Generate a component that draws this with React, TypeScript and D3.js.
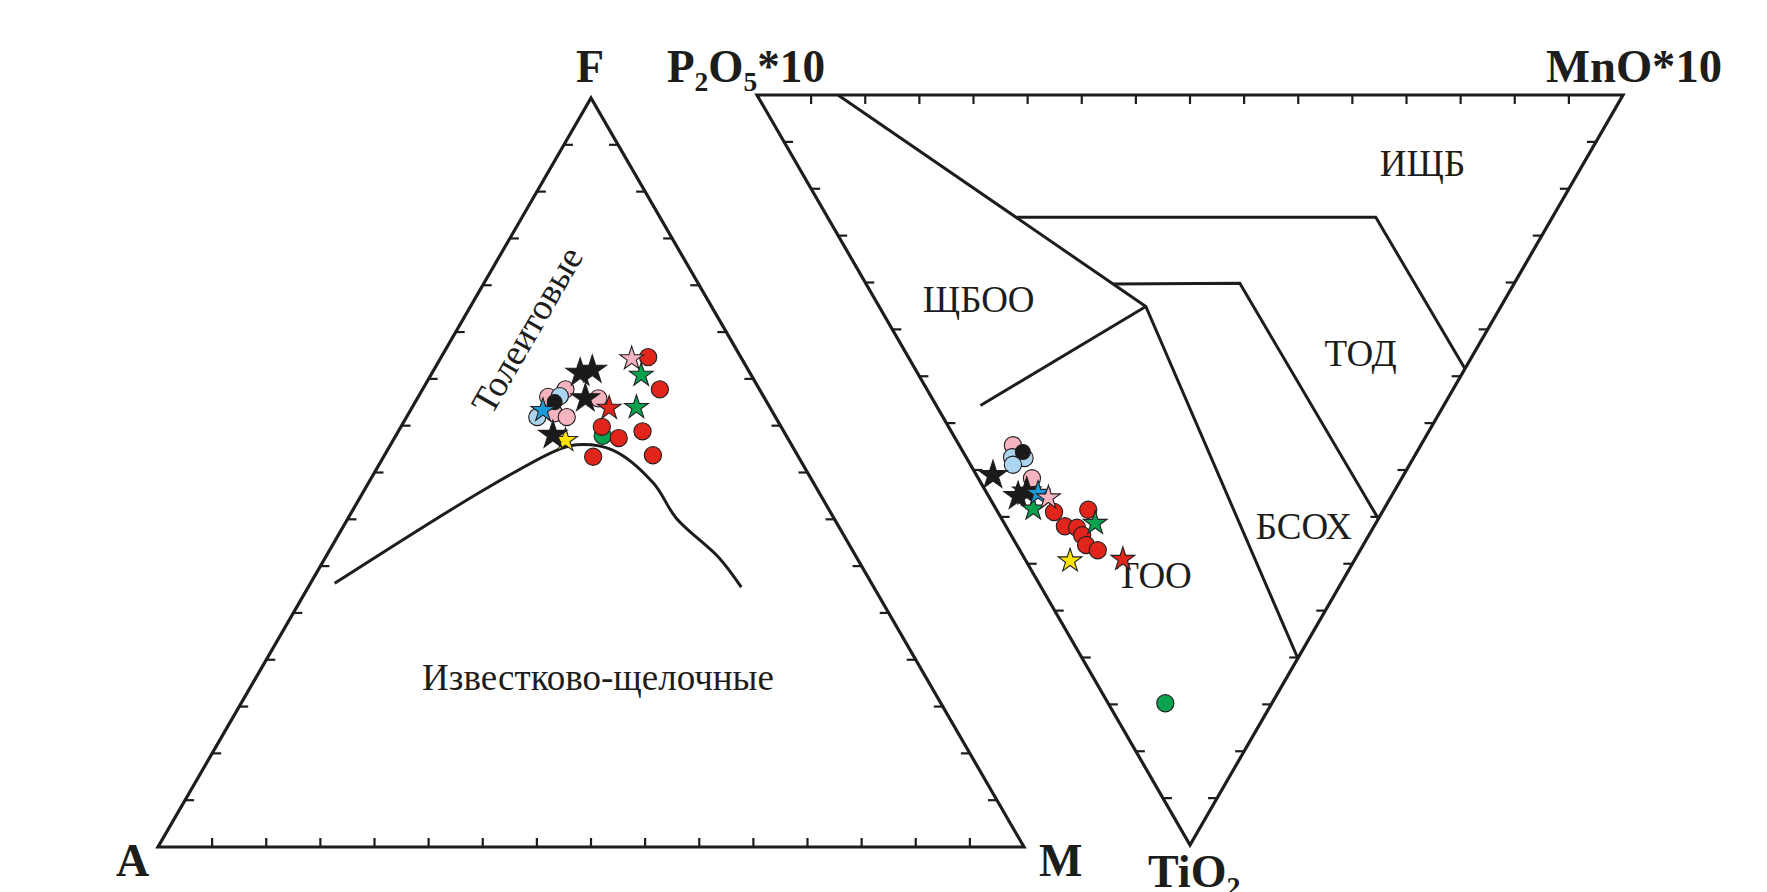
import * as d3 from 'd3'
import React from 'react'

// AFM diagram: [F, M] in %, A = 100 - F - M
const afmBlackStar = [[63.3, 17.1], [63.7, 18.3], [59.9, 19.4], [55.0, 18.1]]
const afmPinkStar = [[65.2, 22.1]]
const afmRedCircle = [[65.4, 23.9], [61.1, 27.4], [56.1, 23.2], [54.6, 25.9], [55.5, 28.2], [52.1, 24.2], [52.3, 31.0]]
const afmGreenStar = [[63.0, 24.3], [58.7, 25.9]]
const afmPinkCircle = [[61.1, 16.5], [60.1, 15.0], [57.9, 16.8], [57.4, 18.5], [59.9, 20.9]]
const afmBlueCircle = [[60.2, 16.3], [57.4, 15.1]]
const afmBlackCircle = [[59.4, 16.1]]
const afmBlueStar = [[58.3, 15.3]]
const afmRedStar = [[58.6, 22.8]]
const afmGreenCircle = [[54.9, 23.9]]
const afmYellowStar = [[54.3, 19.9]]

// tholeiite / calc-alkaline divide, [F, M]
const afmDivide = [[35.2, 2.8], [47.9, 14.0], [53.0, 19.6], [53.7, 21.5], [53.0, 26.0], [48.6, 32.9], [43.9, 37.9], [38.6, 45.5], [34.7, 50.0]]

// MnO*10 - TiO2 - P2O5*10 diagram: [TiO2, MnO*10] in %, P2O5*10 = rest
const mulPinkCircle = [[46.7, 6.2], [51.1, 6.2]]
const mulBlackCircle = [[47.6, 6.9]]
const mulBlueCircle = [[48.3, 5.3], [48.4, 6.7], [49.3, 4.9]]
const mulBlackStar = [[50.7, 1.9], [53.5, 3.4], [52.9, 4.7]]
const mulBlueStar = [[53.1, 5.9]]
const mulPinkStar = [[53.7, 6.8]]
const mulGreenStar = [[55.2, 4.3], [57.1, 10.5]]
const mulRedCircle = [[55.6, 6.5], [57.5, 6.8], [57.7, 8.1], [58.7, 8.2], [55.3, 10.6], [60.0, 8.0], [60.7, 9.0]]
const mulRedStar = [[61.9, 11.3]]
const mulYellowStar = [[62.1, 5.1]]
const mulGreenCircle = [[81.1, 6.6]]

// field boundaries, [TiO2, MnO*10]
const mulLines = [
  [[0, 9.35], [28.2, 30.8], [75.1, 24.9]],
  [[41.4, 5.1], [28.2, 30.8]],
  [[16.3, 21.8], [16.3, 63.3], [36.5, 63.5]],
  [[25.2, 28.5], [25.1, 43.2], [56.5, 43.5]],
]

const mulFields = [
  { name: 'ИЩБ', t: 9.1, m: 72.3 },
  { name: 'ЩБОО', t: 27.2, m: 12.0 },
  { name: 'ТОД', t: 34.4, m: 52.5 },
  { name: 'БСОХ', t: 57.5, m: 34.4 },
  { name: 'ТОО', t: 64.1, m: 13.8 },
]

const sub16 = d3.range(1, 16).map(i => i * 100 / 16)

const ink = '#1d1d1b'
const edge = '#231f20'

const look = {
  redCircle: { shape: 'circle', fill: '#e1251b', size: 8.6 },
  greenCircle: { shape: 'circle', fill: '#0aa14f', size: 8.6 },
  pinkCircle: { shape: 'circle', fill: '#f5b4bf', size: 8.6 },
  blueCircle: { shape: 'circle', fill: '#acd6ef', size: 8.6 },
  blackCircle: { shape: 'circle', fill: '#1a1a1a', size: 7.5 },
  blackStar: { shape: 'star', fill: '#1a1a1a', size: 15 },
  pinkStar: { shape: 'star', fill: '#f5b4bf', size: 12.5 },
  redStar: { shape: 'star', fill: '#e1251b', size: 12.5 },
  greenStar: { shape: 'star', fill: '#0aa14f', size: 12.5 },
  blueStar: { shape: 'star', fill: '#1b9bd7', size: 12.5 },
  yellowStar: { shape: 'star', fill: '#ffe500', size: 12.5 },
}

const afmSeries = [
  ['pinkCircle', afmPinkCircle], ['blueCircle', afmBlueCircle], ['greenCircle', afmGreenCircle],
  ['redCircle', afmRedCircle], ['blackCircle', afmBlackCircle], ['yellowStar', afmYellowStar],
  ['blackStar', afmBlackStar], ['pinkStar', afmPinkStar], ['redStar', afmRedStar],
  ['greenStar', afmGreenStar], ['blueStar', afmBlueStar],
]
const mulSeries = [
  ['pinkCircle', mulPinkCircle], ['blueCircle', mulBlueCircle], ['blackCircle', mulBlackCircle],
  ['greenCircle', mulGreenCircle], ['redCircle', mulRedCircle], ['blackStar', mulBlackStar],
  ['greenStar', mulGreenStar], ['blueStar', mulBlueStar], ['pinkStar', mulPinkStar],
  ['redStar', mulRedStar], ['yellowStar', mulYellowStar],
]

// left triangle: A bottom-left, M bottom-right, F top
const xL = d3.scaleLinear().domain([0, 100]).range([158, 1024])
const yL = d3.scaleLinear().domain([0, 100]).range([847, 98])
const afm = (f, m) => [xL(m + f / 2), yL(f)]

// right triangle: P2O5 top-left, MnO top-right, TiO2 bottom
const xR = d3.scaleLinear().domain([0, 100]).range([757, 1623])
const yR = d3.scaleLinear().domain([0, 100]).range([95, 845])
const mul = (t, m) => [xR(m + t / 2), yR(t)]

const Marker = ({ kind, p }) => {
  const s = look[kind]
  if (s.shape === 'circle') {
    return <circle cx={p[0]} cy={p[1]} r={s.size} fill={s.fill} stroke={edge} strokeWidth={1.1} />
  }
  const d = d3.symbol(d3.symbolStar, (s.size * s.size) / 0.8908130915292852)()
  return <path d={d} transform={`translate(${p[0]},${p[1]})`} fill={s.fill} stroke={edge} strokeWidth={1.1} strokeLinejoin='miter' />
}

const tick = 9

export default function App() {
  const serif = '"Liberation Serif", "Times New Roman", serif'
  const line = d3.line().curve(d3.curveCatmullRom.alpha(0.5))
  const straight = d3.line()

  const lA = afm(0, 0), lM = afm(0, 100), lF = afm(100, 0)
  const rP = mul(0, 0), rMn = mul(0, 100), rT = mul(100, 0)

  return (
    <svg width={1767} height={892} style={{ position: 'absolute', left: 0, top: 0, background: '#fff' }}>
      <rect width={1767} height={892} fill='#fff' />

      {/* AFM */}
      <g>
        <path d={straight([lA, lM, lF]) + 'Z'} fill='none' stroke={ink} strokeWidth={3.2} strokeLinejoin='miter' />
        {sub16.map(v => {
          const b = afm(0, v), l = afm(v, 0), r = afm(v, 100 - v)
          return (
            <g key={v} stroke={ink} strokeWidth={2.2}>
              <line x1={b[0]} y1={b[1]} x2={b[0]} y2={b[1] - tick} />
              <line x1={l[0]} y1={l[1]} x2={l[0] + tick} y2={l[1]} />
              <line x1={r[0]} y1={r[1]} x2={r[0] - tick} y2={r[1]} />
            </g>
          )
        })}
        <path d={line(afmDivide.map(d => afm(d[0], d[1])))} fill='none' stroke={ink} strokeWidth={3} />
        <text x={527} y={330} transform='rotate(-60 527 330)' textAnchor='middle' dominantBaseline='central'
          fontFamily={serif} fontSize={37} fill={ink}>Толеитовые</text>
        <text x={598} y={677} textAnchor='middle' dominantBaseline='central'
          fontFamily={serif} fontSize={37} fill={ink}>Известково-щелочные</text>
        {afmSeries.map(([k, pts]) => pts.map((d, i) => (
          <Marker key={k + i} kind={k} p={afm(d[0], d[1])} />
        )))}
        <text x={590} y={82} textAnchor='middle' fontFamily={serif} fontWeight='bold' fontSize={46} fill={ink}>F</text>
        <text x={116} y={876} fontFamily={serif} fontWeight='bold' fontSize={46} fill={ink}>A</text>
        <text x={1039} y={876} fontFamily={serif} fontWeight='bold' fontSize={46} fill={ink}>M</text>
      </g>

      {/* MnO - TiO2 - P2O5 */}
      <g>
        <path d={straight([rP, rMn, rT]) + 'Z'} fill='none' stroke={ink} strokeWidth={3.2} strokeLinejoin='miter' />
        {sub16.map(v => {
          const t = mul(0, v), l = mul(v, 0), r = mul(v, 100 - v)
          return (
            <g key={v} stroke={ink} strokeWidth={2.2}>
              <line x1={t[0]} y1={t[1]} x2={t[0]} y2={t[1] + tick} />
              <line x1={l[0]} y1={l[1]} x2={l[0] + tick} y2={l[1]} />
              <line x1={r[0]} y1={r[1]} x2={r[0] - tick} y2={r[1]} />
            </g>
          )
        })}
        {mulLines.map((seg, i) => (
          <path key={i} d={straight(seg.map(d => mul(d[0], d[1])))} fill='none' stroke={ink} strokeWidth={3} strokeLinejoin='miter' />
        ))}
        {mulFields.map(f => {
          const p = mul(f.t, f.m)
          return <text key={f.name} x={p[0]} y={p[1]} textAnchor='middle' dominantBaseline='central'
            fontFamily={serif} fontSize={37} fill={ink}>{f.name}</text>
        })}
        {mulSeries.map(([k, pts]) => pts.map((d, i) => (
          <Marker key={k + i} kind={k} p={mul(d[0], d[1])} />
        )))}
        <text x={667} y={82} fontFamily={serif} fontWeight='bold' fontSize={46} fill={ink}
          textLength={158} lengthAdjust='spacingAndGlyphs'>
          P<tspan fontSize={28} dy={9}>2</tspan><tspan dy={-9}>O</tspan><tspan fontSize={28} dy={9}>5</tspan><tspan dy={-9}>*10</tspan>
        </text>
        <text x={1546} y={82} fontFamily={serif} fontWeight='bold' fontSize={46} fill={ink}
          textLength={176} lengthAdjust='spacingAndGlyphs'>MnO*10</text>
        <text x={1148} y={887} fontFamily={serif} fontWeight='bold' fontSize={46} fill={ink}>
          TiO<tspan fontSize={28} dy={9}>2</tspan>
        </text>
      </g>
    </svg>
  )
}
